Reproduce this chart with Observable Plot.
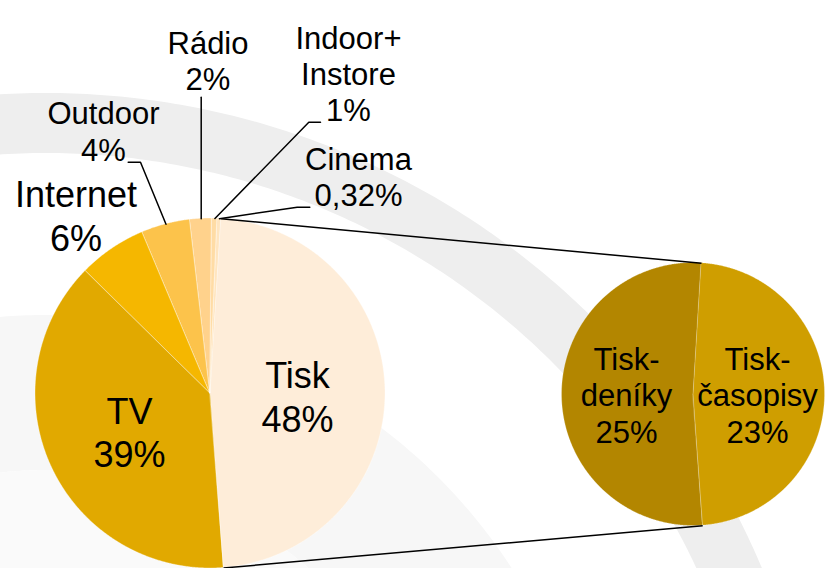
<!DOCTYPE html>
<html><head><meta charset="utf-8">
<script src="https://cdn.jsdelivr.net/npm/d3@7"></script>
<script src="https://cdn.jsdelivr.net/npm/@observablehq/plot@0.6"></script>
<style>body{margin:0;background:#fff}</style>
</head><body><div id="chart"></div>
<script>
// ---- data ----
const categories = ["Tisk", "TV", "Internet", "Outdoor", "Rádio", "Indoor+\nInstore", "Cinema"];
const shares = [47.9, 38.6, 6.3, 4.5, 2.0, 0.5, 0.32];
const shareLabels = ["48%", "39%", "6%", "4%", "2%", "1%", "0,32%"];
const pressCategories = ["Tisk-\nčasopisy", "Tisk-\ndeníky"];
const pressShares = [23, 25];
const pressLabels = ["23%", "25%"];

// ---- styles / layout ----
const mainColors = ["#FEEDD9", "#E1A900", "#F5B700", "#FCC34B", "#FFD28C", "#FFDCA5", "#FFE5BF"];
const pressColors = ["#CF9E00", "#B38600"];
const main = {cx: 210, cy: 393, r: 175, start: 3.5};
const press = {cx: 693, cy: 394, r: 131.5, start: 3.5};
const mainLabelLayout = [
  {x: 297, y: 431, size: 36, lh: 44},
  {x: 129, y: 466, size: 36, lh: 43},
  {x: 75.5, y: 250, size: 36, lh: 43.3},
  {x: 103, y: 160, size: 31, lh: 36.7},
  {x: 207.5, y: 89.3, size: 31, lh: 36},
  {x: 348, y: 120.7, size: 31, lh: 36.2},
  {x: 358, y: 205.7, size: 31, lh: 36.4}
];
const pressLabelLayout = [
  {x: 757, y: 442.7, size: 31, lh: 36.8},
  {x: 626, y: 442.7, size: 31, lh: 36.8}
];
const leaderLayout = [
  {i: 3, path: [[127.7, 161.7], [140, 161.7]]},
  {i: 4, path: [[null, 96.7]]},
  {i: 5, path: [[320, 121.7], [308.3, 121.7]]},
  {i: 6, path: [[309.3, 206.7], [296.7, 206.7]]}
];
const watermark = {cx: 46, cy: 870, bands: [
  {r0: 717, r1: 777, color: "#EEEEEE"},
  {r0: 400, r1: 555, color: "#F7F7F7"},
  {r0: 300, r1: 400, color: "#FAFAFA"}
]};

// ---- geometry helpers ----
const rad = d => d * Math.PI / 180;
const pt = (g, a, r) => [g.cx + r * Math.sin(rad(a)), g.cy - r * Math.cos(rad(a))];
function wedges(values, g) {
  const total = d3.sum(values);
  let a = g.start;
  return values.map((v, i) => { const a0 = a; a += v / total * 360; return {i, a0, a1: a, mid: (a0 + a) / 2}; });
}
function wedgePoints(ws, g, colors, prefix) {
  const out = [];
  for (const w of ws) {
    const n = Math.max(2, Math.ceil((w.a1 - w.a0) / 0.25));
    for (let k = 0; k <= n; k++) {
      const a = w.a0 + (w.a1 - w.a0) * k / n;
      const [x, y] = pt(g, a, g.r);
      out.push({key: prefix + w.i, x1: g.cx, y1: g.cy, x2: x, y2: y, fill: colors[w.i]});
    }
  }
  return out;
}
function bandPoints() {
  const out = [];
  watermark.bands.forEach((b, j) => {
    for (let a = -35; a <= 85; a += 0.5) {
      const [x1, y1] = pt(watermark, a, b.r0);
      const [x2, y2] = pt(watermark, a, b.r1);
      out.push({key: "b" + j, x1, y1, x2, y2, fill: b.color});
    }
  });
  return out;
}

const mw = wedges(shares, main);
const pw = wedges(pressShares, press);
const mainPts = wedgePoints(mw, main, mainColors, "m");
const pressPts = wedgePoints(pw, press, pressColors, "p");

// connectors between Tisk slice and the secondary pie
const tisk = mw[0];
const [ta0x, ta0y] = pt(main, tisk.a0, main.r);
const [ta1x, ta1y] = pt(main, tisk.a1, main.r);
const [pa0x, pa0y] = pt(press, pw[0].a0, press.r);
const [pa1x, pa1y] = pt(press, pw[0].a1, press.r);
const connectors = [
  {x1: ta0x, y1: ta0y, x2: pa0x, y2: pa0y},
  {x1: ta1x, y1: ta1y, x2: pa1x, y2: pa1y}
];

// leader lines
const leaders = [];
leaderLayout.forEach(L => {
  const [ex, ey] = pt(main, mw[L.i].mid, main.r);
  L.path.forEach(([x, y]) => leaders.push({key: L.i, x: x == null ? ex : x, y}));
  leaders.push({key: L.i, x: ex, y: ey});
});

// labels
const textMarks = [];
categories.forEach((c, i) => {
  const L = mainLabelLayout[i];
  textMarks.push(Plot.text([{x: L.x, y: L.y, t: c + "\n" + shareLabels[i]}], {
    x: "x", y: "y", text: "t", fontSize: L.size, lineHeight: L.lh / L.size,
    lineAnchor: "bottom", textAnchor: "middle", fill: "#000"
  }));
});
pressCategories.forEach((c, i) => {
  const L = pressLabelLayout[i];
  textMarks.push(Plot.text([{x: L.x, y: L.y, t: c + "\n" + pressLabels[i]}], {
    x: "x", y: "y", text: "t", fontSize: L.size, lineHeight: L.lh / L.size,
    lineAnchor: "bottom", textAnchor: "middle", fill: "#000"
  }));
});

const chart = Plot.plot({
  width: 825, height: 568, margin: 0,
  x: {domain: [0, 825], range: [0, 825], axis: null},
  y: {domain: [0, 568], range: [0, 568], axis: null},
  color: {type: "identity"},
  style: {background: "#fff", fontFamily: "'Liberation Sans', Arial, sans-serif", color: "#000", overflow: "hidden"},
  marks: [
    Plot.area(bandPoints(), {x1: "x1", y1: "y1", x2: "x2", y2: "y2", z: "key", fill: "fill", clip: true}),
    Plot.area(mainPts, {x1: "x1", y1: "y1", x2: "x2", y2: "y2", z: "key", fill: "fill", stroke: "#fff", strokeWidth: 0.6, strokeOpacity: 0.6}),
    Plot.area(pressPts, {x1: "x1", y1: "y1", x2: "x2", y2: "y2", z: "key", fill: "fill", stroke: "#fff", strokeWidth: 0.6, strokeOpacity: 0.4}),
    Plot.link(connectors, {x1: "x1", y1: "y1", x2: "x2", y2: "y2", stroke: "#000", strokeWidth: 1.5}),
    Plot.line(leaders, {x: "x", y: "y", z: "key", stroke: "#000", strokeWidth: 1.5}),
    ...textMarks
  ]
});
document.getElementById("chart").append(chart);
</script>
</body></html>
